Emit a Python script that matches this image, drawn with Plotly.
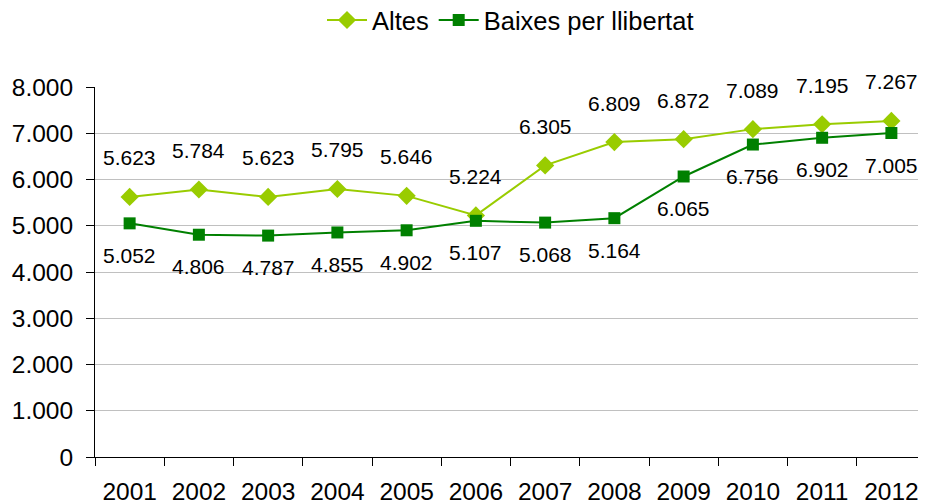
import plotly.graph_objects as go

years = ["2001", "2002", "2003", "2004", "2005", "2006", "2007", "2008", "2009", "2010", "2011", "2012"]
altes = [5623, 5784, 5623, 5795, 5646, 5224, 6305, 6809, 6872, 7089, 7195, 7267]
baixes = [5052, 4806, 4787, 4855, 4902, 5107, 5068, 5164, 6065, 6756, 6902, 7005]
y_ticks = [0, 1000, 2000, 3000, 4000, 5000, 6000, 7000, 8000]

C_ALTES = "#99CC00"
C_BAIXES = "#008000"
FONT = "Liberation Sans, Arial, sans-serif"


def fmt(v):
    return f"{v:,}".replace(",", ".")


fig = go.Figure()
fig.add_trace(go.Scatter(
    x=years, y=altes, name="Altes", mode="lines+markers",
    line=dict(color=C_ALTES, width=2),
    marker=dict(symbol="diamond", size=14, color=C_ALTES),
    cliponaxis=False,
))
fig.add_trace(go.Scatter(
    x=years, y=baixes, name="Baixes per llibertat", mode="lines+markers",
    line=dict(color=C_BAIXES, width=2),
    marker=dict(symbol="square", size=12, color=C_BAIXES),
    cliponaxis=False,
))

annotations = []
for i, v in enumerate(altes):
    annotations.append(dict(x=i, y=v, text=fmt(v), showarrow=False, yshift=39,
                            font=dict(size=21, color="black", family=FONT)))
for i, v in enumerate(baixes):
    annotations.append(dict(x=i, y=v, text=fmt(v), showarrow=False, yshift=-32,
                            font=dict(size=21, color="black", family=FONT)))

# page body has an 8px margin; figure sized to fill the remaining window
fig.update_layout(
    width=918, height=496,
    margin=dict(l=87, r=0, t=79, b=47, autoexpand=False),
    paper_bgcolor="white", plot_bgcolor="white",
    separators=",.",
    font=dict(family=FONT, size=24.5, color="black"),
    showlegend=True,
    legend=dict(orientation="h", x=0.5, xanchor="center", y=1.18, yanchor="middle",
                font=dict(size=25.5, color="black"), itemwidth=40,
                bgcolor="rgba(0,0,0,0)", traceorder="normal"),
    annotations=annotations,
)
fig.update_xaxes(
    type="category", range=[-0.5, len(years) - 0.5], tickson="boundaries",
    ticks="outside", ticklen=8, tickangle=0, automargin=False,
    tickcolor="black", showline=True, linecolor="black", linewidth=1,
    showgrid=False, ticklabelstandoff=13, tickfont=dict(size=24.5),
)
fig.update_yaxes(
    range=[0, 8000], tickvals=y_ticks, tickformat=",d", ticks="outside", ticklen=8,
    tickcolor="black", showline=True, linecolor="black", linewidth=1,
    showgrid=True, gridcolor="#C0C0C0", gridwidth=1, zeroline=False, automargin=False,
    ticklabelstandoff=8, tickfont=dict(size=24.5),
)

fig.write_html("out.html")
